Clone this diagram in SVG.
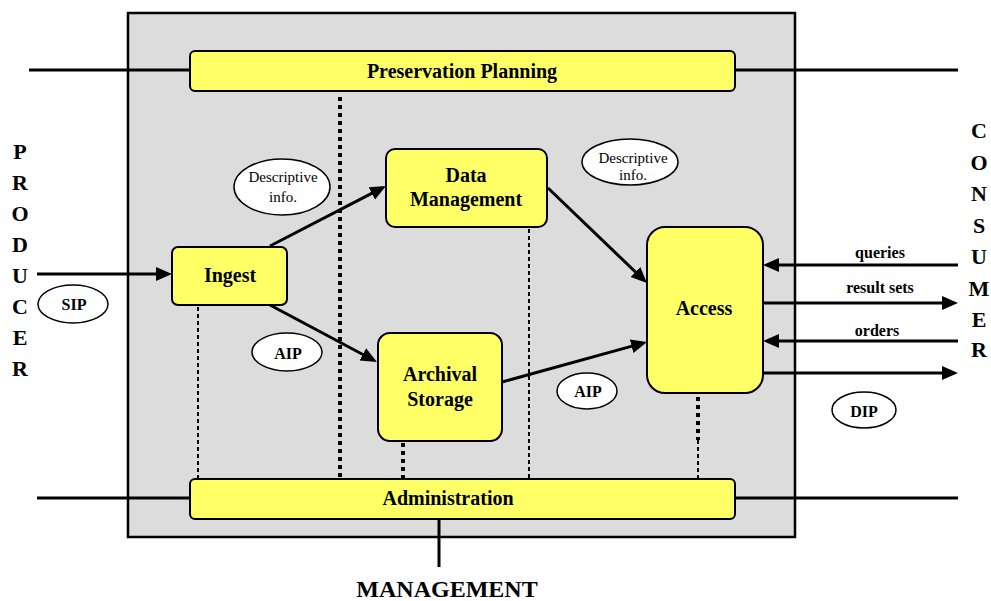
<svg xmlns="http://www.w3.org/2000/svg" width="991" height="601" viewBox="0 0 991 601">
  <style>
    .func { fill: #ffff66; stroke: #000; stroke-width: 2; }
    .pkg { fill: #fff; stroke: #000; stroke-width: 1.5; }
    .t { font-family: "Liberation Serif", "Times New Roman", serif; font-weight: bold; fill: #000; text-anchor: middle; }
    .lbl { font-size: 20px; }
    .pk { font-size: 16px; }
    .small { font-family: "Liberation Serif", "Times New Roman", serif; font-size: 15px; fill: #000; text-anchor: middle; }
    .ext { font-size: 22px; }
    .flow { stroke: #000; stroke-width: 3; fill: none; }
    .link { stroke: #000; stroke-width: 3; fill: none; }
    .dotA { stroke: #000; stroke-width: 4; stroke-dasharray: 4 4; fill: none; }
    .dotB { stroke: #000; stroke-width: 2; stroke-dasharray: 4 3; fill: none; }
  </style>
  <defs>
    <marker id="ah" markerUnits="userSpaceOnUse" markerWidth="16" markerHeight="16" refX="8" refY="8" orient="auto" viewBox="0 0 16 16">
      <path d="M0,1 L16,8 L0,15 z" fill="#000"/>
    </marker>
  </defs>

  <rect width="991" height="601" fill="#fff"/>

  <!-- OAIS boundary -->
  <rect id="oais" x="128" y="13" width="667" height="524" fill="#dcdcdc" stroke="#000" stroke-width="2.5"/>

  <!-- external links and dependency lines -->
  <g id="connectors">
    <line class="link" x1="29" y1="70" x2="190" y2="70"/>
    <line class="link" x1="735" y1="70" x2="958" y2="70"/>
    <line class="link" x1="37" y1="498" x2="190" y2="498"/>
    <line class="link" x1="735" y1="498" x2="958" y2="498"/>
    <line class="link" x1="439" y1="519" x2="439" y2="567" stroke-width="4"/>

    <line class="dotA" x1="340" y1="97" x2="340" y2="479"/>
    <line class="dotB" x1="198" y1="307" x2="198" y2="479"/>
    <line class="dotB" x1="529" y1="229" x2="529" y2="479"/>
    <line class="dotA" x1="403" y1="443" x2="403" y2="479"/>
    <line class="dotA" x1="698" y1="397" x2="698" y2="440"/>
    <line class="dotB" x1="698" y1="440" x2="698" y2="479"/>

    <line class="flow" x1="37" y1="274" x2="164" y2="274" marker-end="url(#ah)"/>
    <line class="flow" x1="270" y1="246" x2="378.9" y2="189.7" marker-end="url(#ah)"/>
    <line class="flow" x1="270" y1="305" x2="369.9" y2="358.2" marker-end="url(#ah)"/>
    <line class="flow" x1="548" y1="188" x2="641.2" y2="277.5" marker-end="url(#ah)"/>
    <line class="flow" x1="502" y1="382" x2="639.3" y2="344.1" marker-end="url(#ah)"/>
    <line class="flow" x1="958" y1="265" x2="771" y2="265" stroke-width="2.5" marker-end="url(#ah)"/>
    <line class="flow" x1="763" y1="303" x2="950" y2="303" marker-end="url(#ah)"/>
    <line class="flow" x1="958" y1="341" x2="771" y2="341" marker-end="url(#ah)"/>
    <line class="flow" x1="763" y1="373" x2="950" y2="373" marker-end="url(#ah)"/>
  </g>

  <g id="preservation-planning">
    <rect class="func" x="190" y="51" width="545" height="40" rx="5"/>
    <text class="t lbl" x="462" y="78">Preservation Planning</text>
  </g>

  <g id="administration">
    <rect class="func" x="190" y="479" width="545" height="40" rx="5"/>
    <text class="t lbl" x="448" y="505">Administration</text>
  </g>

  <g id="ingest">
    <rect class="func" x="172" y="247" width="115" height="58" rx="6"/>
    <text class="t lbl" x="230" y="282">Ingest</text>
  </g>

  <g id="data-management">
    <rect class="func" x="386" y="149" width="161" height="78" rx="9"/>
    <text class="t lbl" x="466" y="182">Data</text>
    <text class="t lbl" x="466" y="206">Management</text>
  </g>

  <g id="archival-storage">
    <rect class="func" x="378" y="333" width="124" height="108" rx="12"/>
    <text class="t lbl" x="440" y="381">Archival</text>
    <text class="t lbl" x="440" y="406">Storage</text>
  </g>

  <g id="access">
    <rect class="func" x="647" y="227" width="116" height="166" rx="18"/>
    <text class="t lbl" x="704" y="315">Access</text>
  </g>

  <!-- information packages -->
  <g id="desc-info-1">
    <ellipse class="pkg" cx="282" cy="187" rx="48" ry="28"/>
    <text class="small" x="283" y="182">Descriptive</text>
    <text class="small" x="283" y="202">info.</text>
  </g>
  <g id="desc-info-2">
    <ellipse class="pkg" cx="630" cy="162" rx="48" ry="23"/>
    <text class="small" x="633" y="163">Descriptive</text>
    <text class="small" x="633" y="180">info.</text>
  </g>
  <g id="sip">
    <ellipse class="pkg" cx="73" cy="304" rx="35" ry="19"/>
    <text class="t pk" x="74" y="310">SIP</text>
  </g>
  <g id="aip-1">
    <ellipse class="pkg" cx="287" cy="352" rx="35" ry="19"/>
    <text class="t pk" x="288" y="359">AIP</text>
  </g>
  <g id="aip-2">
    <ellipse class="pkg" cx="587" cy="391" rx="30" ry="18"/>
    <text class="t pk" x="588" y="397">AIP</text>
  </g>
  <g id="dip">
    <ellipse class="pkg" cx="864" cy="410" rx="32" ry="18"/>
    <text class="t pk" x="864" y="417">DIP</text>
  </g>

  <!-- flow labels -->
  <g id="flow-labels">
    <text class="t pk" x="880" y="258">queries</text>
    <text class="t pk" x="880" y="293">result sets</text>
    <text class="t pk" x="877" y="336">orders</text>
  </g>

  <!-- external entities -->
  <g id="producer">
    <text class="t ext" x="20" y="159">P</text>
    <text class="t ext" x="20" y="190">R</text>
    <text class="t ext" x="20" y="221">O</text>
    <text class="t ext" x="20" y="252">D</text>
    <text class="t ext" x="20" y="283">U</text>
    <text class="t ext" x="20" y="314">C</text>
    <text class="t ext" x="20" y="345">E</text>
    <text class="t ext" x="20" y="376">R</text>
  </g>
  <g id="consumer">
    <text class="t ext" x="979" y="138">C</text>
    <text class="t ext" x="979" y="170">O</text>
    <text class="t ext" x="979" y="201">N</text>
    <text class="t ext" x="979" y="233">S</text>
    <text class="t ext" x="979" y="264">U</text>
    <text class="t ext" x="979" y="296">M</text>
    <text class="t ext" x="979" y="327">E</text>
    <text class="t ext" x="979" y="357">R</text>
  </g>
  <g id="management">
    <text class="t" x="447" y="597" font-size="24">MANAGEMENT</text>
  </g>
</svg>
